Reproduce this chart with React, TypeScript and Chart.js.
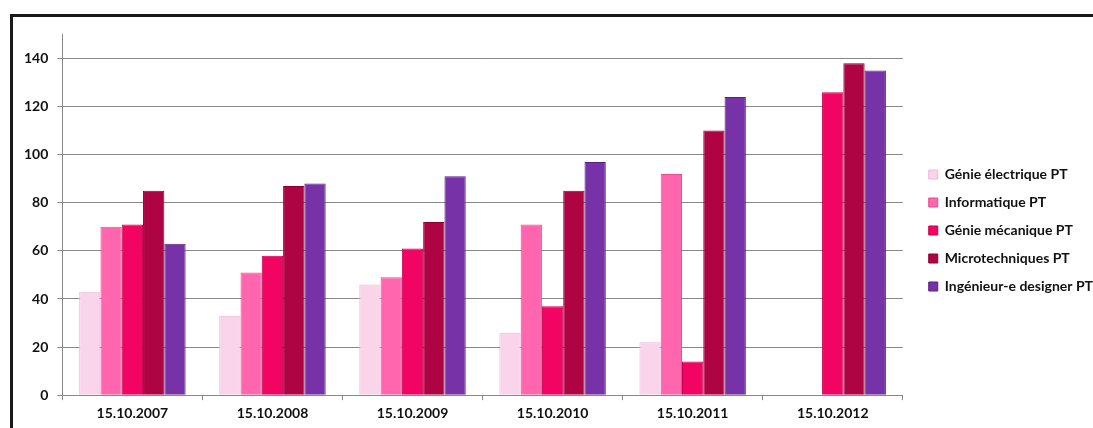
import React, { useEffect, useRef } from "react";
import { Chart, registerables } from "chart.js";

Chart.register(...registerables);

const categories = ["15.10.2007", "15.10.2008", "15.10.2009", "15.10.2010", "15.10.2011", "15.10.2012"];
const genieElectrique = [43, 33, 46, 26, 22, null];
const informatique = [70, 51, 49, 71, 92, null];
const genieMecanique = [71, 58, 61, 37, 14, 126];
const microtechniques = [85, 87, 72, 85, 110, 138];
const ingenieurDesigner = [63, 88, 91, 97, 124, 135];
const seriesNames = ["Génie électrique PT", "Informatique PT", "Génie mécanique PT", "Microtechniques PT", "Ingénieur-e designer PT"];
const seriesColors = ["#F9D4EA", "#FF66AE", "#F20462", "#AE0443", "#7632A6"];
const seriesBorders = ["#E9BCD6", "#E0508F", "#C8004E", "#880030", "#58207E"];

const LEGEND_GAP = 12;
const LEGEND_TRAIL = 10;

const legendGapPlugin = {
  id: "legendGap",
  beforeLayout(chart: any) {
    const lg = chart.legend;
    if (lg && !lg.__gapPatched) {
      const orig = lg.fit.bind(lg);
      lg.fit = () => {
        orig();
        lg.width += LEGEND_GAP - LEGEND_TRAIL;
      };
      lg.__gapPatched = true;
    }
  },
  afterLayout(chart: any) {
    const lg = chart.legend;
    if (lg) {
      lg.left += LEGEND_GAP;
    }
  },
};

export default function App() {
  const ref = useRef<HTMLCanvasElement | null>(null);
  useEffect(() => {
    document.body.style.margin = "0";
    const values = [genieElectrique, informatique, genieMecanique, microtechniques, ingenieurDesigner];
    const font = { family: "Lato", size: 14, weight: "bold" as const };
    const chart = new Chart(ref.current as HTMLCanvasElement, {
      type: "bar",
      data: {
        labels: categories,
        datasets: values.map((v, i) => ({
          label: seriesNames[i],
          data: v,
          backgroundColor: seriesColors[i],
          borderColor: seriesBorders[i],
          borderWidth: 1,
          barPercentage: 1,
          categoryPercentage: 0.76,
        })),
      },
      plugins: [legendGapPlugin],
      options: {
        animation: false,
        responsive: false,
        maintainAspectRatio: false,
        layout: { padding: { top: 17, left: 2, right: 0, bottom: 1 } },
        plugins: {
          tooltip: { enabled: false },
          legend: {
            position: "right",
            labels: {
              boxWidth: 9,
              boxHeight: 9,
              padding: 14,
              color: "#111",
              font,
            },
          },
        },
        scales: {
          x: {
            grid: { drawOnChartArea: false, drawTicks: true, tickLength: 5, color: "#888", offset: true },
            border: { color: "#888" },
            ticks: { color: "#111", padding: 5, font },
          },
          y: {
            min: 0,
            max: 150,
            grid: { color: "#888", tickLength: 5 },
            border: { color: "#888" },
            ticks: { stepSize: 20, includeBounds: false, color: "#111", padding: 9, font },
          },
        },
      },
    });
    return () => chart.destroy();
  }, []);
  return (
    <div style={{ position: "absolute", left: 10, top: 14, width: 1080, height: 411, borderTop: "3px solid #1a1a1a", borderLeft: "3px solid #1a1a1a", background: "#fff" }}>
      <canvas ref={ref} width={1080} height={411} style={{ display: "block" }} />
    </div>
  );
}
